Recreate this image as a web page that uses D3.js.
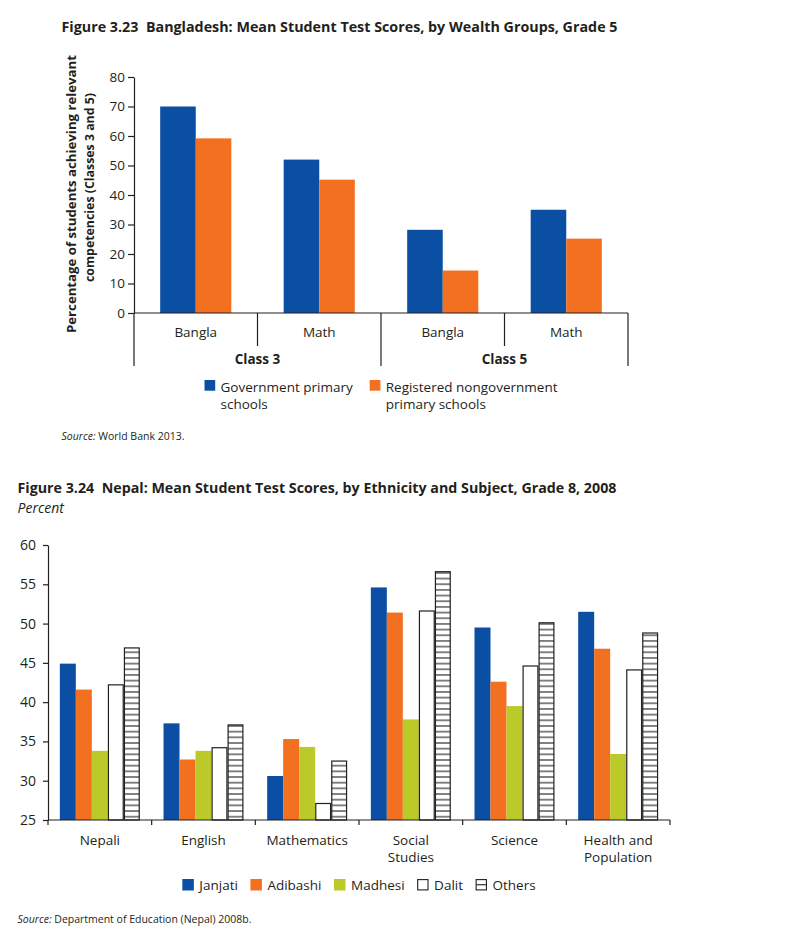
<!DOCTYPE html>
<html><head><meta charset="utf-8">
<script src="https://cdn.jsdelivr.net/npm/d3@7"></script>
<style>
body{margin:0;background:#fff}
svg{display:block}
text{font-family:"Open Sans",sans-serif;fill:#231f20}
</style>
</head><body>
<svg id="c" width="799" height="948"></svg>
<script>
// ---------- Figure 3.23 data ----------
const subjects1 = ["Bangla", "Math", "Bangla", "Math"];
const classes1 = ["Class 3", "Class 5"];
const series1 = ["Government primary schools", "Registered nongovernment primary schools"];
const seriesLines1 = [["Government primary", "schools"], ["Registered nongovernment", "primary schools"]];
const govValues = [70, 52, 28.2, 35];
const ngoValues = [59.2, 45.2, 14.4, 25.2];
const yTicks1 = [0, 10, 20, 30, 40, 50, 60, 70, 80];

// ---------- Figure 3.24 data ----------
const subjects2 = ["Nepali", "English", "Mathematics", "Social Studies", "Science", "Health and Population"];
const subjectLines2 = [["Nepali"], ["English"], ["Mathematics"], ["Social", "Studies"], ["Science"], ["Health and", "Population"]];
const groups2 = ["Janjati", "Adibashi", "Madhesi", "Dalit", "Others"];
const janjati  = [44.9, 37.3, 30.6, 54.6, 49.5, 51.5];
const adibashi = [41.6, 32.7, 35.3, 51.4, 42.6, 46.8];
const madhesi  = [33.8, 33.8, 34.3, 37.8, 39.5, 33.4];
const dalit    = [42.2, 34.2, 27.1, 51.6, 44.6, 44.1];
const others   = [46.9, 37.1, 32.5, 56.6, 50.1, 48.8];
const yTicks2 = [25, 30, 35, 40, 45, 50, 55, 60];

const BLUE = "#0a4fa3", ORANGE = "#f37021", GREEN = "#bbca28", INK = "#231f20";

const svg = d3.select("#c");
const defs = svg.append("defs");

// ================= Figure 3.23 =================
svg.append("text").attr("x", 61.5).attr("y", 32)
  .style("white-space", "pre")
  .attr("font-size", 15).attr("font-weight", 700)
  .attr("textLength", 556).attr("lengthAdjust", "spacingAndGlyphs")
  .text("Figure 3.23  Bangladesh: Mean Student Test Scores, by Wealth Groups, Grade 5");

const g1 = svg.append("g");
const x1 = d3.scaleBand().domain(d3.range(subjects1.length)).range([134, 628]).padding(0);
const inner1 = d3.scaleBand().domain([0, 1]).range([0, x1.bandwidth()]).paddingInner(0).paddingOuter(0.736);
const y1 = d3.scaleLinear().domain([0, 80]).range([313, 77]);

const yAxis1 = d3.axisLeft(y1).tickValues(yTicks1).tickSize(6).tickSizeOuter(0).tickPadding(3);
const ya1 = g1.append("g").attr("transform", "translate(134,0)").call(yAxis1);
ya1.select(".domain").attr("stroke", INK).attr("stroke-width", 1.2);
ya1.selectAll(".tick line").attr("stroke", INK).attr("stroke-width", 1.2);
ya1.selectAll(".tick text").attr("font-size", 13.5).attr("font-family", "Open Sans").attr("fill", INK);

// bars
const data1 = subjects1.map((s, i) => ({ i, vals: [govValues[i], ngoValues[i]] }));
const bg1 = g1.selectAll("g.grp").data(data1).join("g").attr("class", "grp")
  .attr("transform", d => `translate(${x1(d.i)},0)`);
bg1.selectAll("rect").data(d => d.vals.map((v, k) => ({ v, k }))).join("rect")
  .attr("x", d => inner1(d.k)).attr("width", inner1.bandwidth())
  .attr("y", d => y1(d.v)).attr("height", d => y1(0) - y1(d.v))
  .attr("fill", d => d.k === 0 ? BLUE : ORANGE);

// x axis line and dividers
g1.append("line").attr("x1", x1.range()[0]).attr("x2", x1.range()[1]).attr("y1", y1(0)).attr("y2", y1(0))
  .attr("stroke", INK).attr("stroke-width", 1.2);
const dividers1 = d3.range(subjects1.length + 1).map(i => ({
  x: i < subjects1.length ? x1(i) : x1.range()[1], long: i % 2 === 0
}));
g1.selectAll("line.div").data(dividers1).join("line").attr("class", "div")
  .attr("x1", d => d.x).attr("x2", d => d.x).attr("y1", y1(0)).attr("y2", d => d.long ? 366 : 346)
  .attr("stroke", INK).attr("stroke-width", 1.2);
g1.selectAll("text.sub").data(subjects1).join("text").attr("class", "sub")
  .attr("x", (d, i) => x1(i) + x1.bandwidth() / 2).attr("y", 337)
  .attr("text-anchor", "middle").attr("font-size", 13.5).text(d => d);
g1.selectAll("text.cls").data(classes1).join("text").attr("class", "cls")
  .attr("x", (d, i) => x1(i * 2 + 1)).attr("y", 364)
  .attr("text-anchor", "middle").attr("font-size", 13.5).attr("font-weight", 700).text(d => d);

// y title
g1.append("text").attr("transform", "translate(76,194) rotate(-90)")
  .attr("text-anchor", "middle").attr("font-size", 12.8).attr("font-weight", 700)
  .attr("textLength", 278).attr("lengthAdjust", "spacingAndGlyphs")
  .text("Percentage of students achieving relevant");
g1.append("text").attr("transform", "translate(94,187.5) rotate(-90)")
  .attr("text-anchor", "middle").attr("font-size", 12.8).attr("font-weight", 700)
  .attr("textLength", 189).attr("lengthAdjust", "spacingAndGlyphs")
  .text("competencies (Classes 3 and 5)");

// legend 1
const leg1 = g1.append("g");
let lx = 0;
seriesLines1.forEach((lines, k) => {
  const it = leg1.append("g").attr("transform", `translate(${lx},0)`);
  it.append("rect").attr("x", 0).attr("y", 380).attr("width", 10.7).attr("height", 10.7).attr("fill", k === 0 ? BLUE : ORANGE);
  let w = 0;
  lines.forEach((ln, j) => {
    const t = it.append("text").attr("x", 16).attr("y", 391.5 + j * 17.5).attr("font-size", 13.5).text(ln);
    w = Math.max(w, t.node().getComputedTextLength());
  });
  lx += 16 + w + 17;
});
const legW1 = lx - 17;
leg1.attr("transform", `translate(${(x1.range()[0] + x1.range()[1]) / 2 - legW1 / 2},0)`);

// source 1
const s1 = svg.append("text").attr("x", 61.5).attr("y", 440).attr("font-size", 10.5);
s1.append("tspan").attr("font-style", "italic").text("Source:");
s1.append("tspan").text(" World Bank 2013.");

// ================= Figure 3.24 =================
svg.append("text").attr("x", 17.5).attr("y", 493)
  .style("white-space", "pre")
  .attr("font-size", 15).attr("font-weight", 700)
  .attr("textLength", 599).attr("lengthAdjust", "spacingAndGlyphs")
  .text("Figure 3.24  Nepal: Mean Student Test Scores, by Ethnicity and Subject, Grade 8, 2008");
svg.append("text").attr("x", 17.5).attr("y", 513).attr("font-size", 14).attr("font-style", "italic").text("Percent");

const g2 = svg.append("g");
const x2 = d3.scaleBand().domain(subjects2).range([48, 670]).padding(0);
const inner2 = d3.scaleBand().domain(groups2).range([0, x2.bandwidth()]).paddingInner(0).paddingOuter(0.74);
const y2 = d3.scaleLinear().domain([25, 60]).range([820, 545]);

// hatch pattern for "Others"
const hatchStep = 5.67;
const pat = defs.append("pattern").attr("id", "hatch").attr("patternUnits", "userSpaceOnUse")
  .attr("x", 0).attr("y", y2(25) - 3.3 - hatchStep / 2).attr("width", 20).attr("height", hatchStep);
pat.append("rect").attr("width", 20).attr("height", hatchStep).attr("fill", "#fff");
pat.append("line").attr("x1", 0).attr("x2", 20).attr("y1", hatchStep / 2).attr("y2", hatchStep / 2)
  .attr("stroke", INK).attr("stroke-width", 1.1);

const seriesVals2 = [janjati, adibashi, madhesi, dalit, others];
const styles2 = [
  { fill: BLUE, stroke: "none" },
  { fill: ORANGE, stroke: "none" },
  { fill: GREEN, stroke: "none" },
  { fill: "#fff", stroke: INK },
  { fill: "url(#hatch)", stroke: INK }
];
const data2 = subjects2.map((s, i) => ({ s, vals: groups2.map((g, k) => ({ g, k, v: seriesVals2[k][i] })) }));
const bg2 = g2.selectAll("g.grp").data(data2).join("g").attr("class", "grp")
  .attr("transform", d => `translate(${x2(d.s)},0)`);
bg2.selectAll("rect").data(d => d.vals).join("rect")
  .attr("x", d => inner2(d.g) + (styles2[d.k].stroke === "none" ? 0 : 0.6))
  .attr("width", d => inner2.bandwidth() - (styles2[d.k].stroke === "none" ? 0 : 1.2))
  .attr("y", d => y2(d.v)).attr("height", d => y2(25) - y2(d.v))
  .attr("fill", d => styles2[d.k].fill).attr("stroke", d => styles2[d.k].stroke).attr("stroke-width", 1.2);

const yAxis2 = d3.axisLeft(y2).tickValues(yTicks2).tickSize(5).tickSizeOuter(0).tickPadding(7);
const ya2 = g2.append("g").attr("transform", "translate(48,0)").call(yAxis2);
ya2.select(".domain").attr("stroke", INK).attr("stroke-width", 1.2);
ya2.selectAll(".tick line").attr("stroke", INK).attr("stroke-width", 1.2);
ya2.selectAll(".tick text").attr("font-size", 14).attr("font-family", "Open Sans").attr("fill", INK);

g2.append("line").attr("x1", 48).attr("x2", 670).attr("y1", y2(25)).attr("y2", y2(25)).attr("stroke", INK).attr("stroke-width", 1.2);
const bounds2 = subjects2.map(s => x2(s)).concat([x2.range()[1]]);
g2.selectAll("line.tk").data(bounds2).join("line").attr("class", "tk")
  .attr("x1", d => d).attr("x2", d => d).attr("y1", y2(25)).attr("y2", y2(25) + 5)
  .attr("stroke", INK).attr("stroke-width", 1.2);
const lab2 = g2.selectAll("text.sub").data(subjects2).join("text").attr("class", "sub")
  .attr("text-anchor", "middle").attr("font-size", 13.5);
lab2.each(function (d, i) {
  const t = d3.select(this);
  subjectLines2[i].forEach((ln, j) => {
    t.append("tspan").attr("x", x2(d) + x2.bandwidth() / 2).attr("y", 845 + j * 17).text(ln);
  });
});

// legend 2
const leg2 = g2.append("g");
let lx2 = 0;
groups2.forEach((gname, k) => {
  const it = leg2.append("g").attr("transform", `translate(${lx2},0)`);
  const st = styles2[k];
  it.append("rect").attr("x", st.stroke === "none" ? 0 : 0.6).attr("y", st.stroke === "none" ? 879 : 879.6)
    .attr("width", st.stroke === "none" ? 11.5 : 10.3).attr("height", st.stroke === "none" ? 11.5 : 10.3)
    .attr("fill", st.stroke === "none" ? st.fill : "#fff").attr("stroke", st.stroke).attr("stroke-width", 1.1);
  if (k === 4) it.append("line").attr("x1", 0.6).attr("x2", 10.9).attr("y1", 884.75).attr("y2", 884.75)
    .attr("stroke", INK).attr("stroke-width", 1.1);
  const t = it.append("text").attr("x", 17).attr("y", 890).attr("font-size", 13.5).text(gname);
  lx2 += 17 + t.node().getComputedTextLength() + 12.5;
});
const legW2 = lx2 - 12.5;
leg2.attr("transform", `translate(${(48 + 670) / 2 - legW2 / 2},0)`);

// source 2
const s2 = svg.append("text").attr("x", 17.5).attr("y", 923).attr("font-size", 10.5);
s2.append("tspan").attr("font-style", "italic").text("Source:");
s2.append("tspan").text(" Department of Education (Nepal) 2008b.");
</script>
</body></html>
